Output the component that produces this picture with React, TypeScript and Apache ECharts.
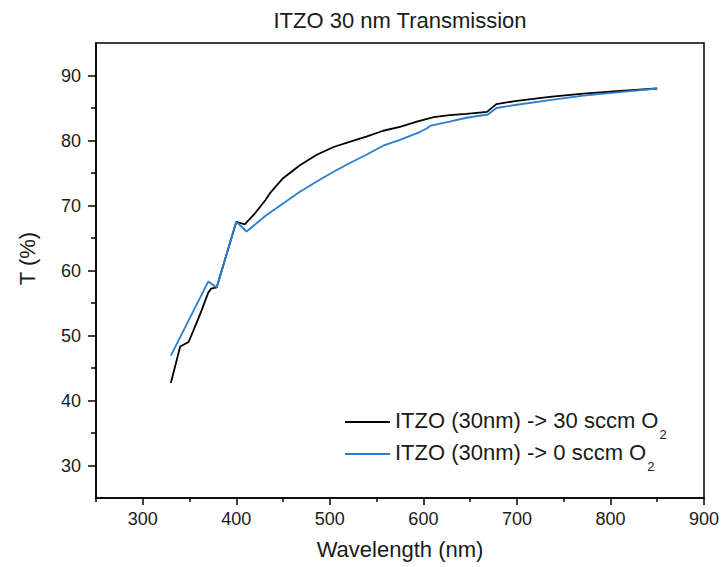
import React, { useEffect, useRef } from "react";
import * as echarts from "echarts";

// Data
const wl30 = [330, 340, 349, 356, 363, 370, 373, 379, 400, 409, 420, 431, 436, 450, 468, 486, 504, 521, 539, 557, 575, 593, 611, 628, 646, 668, 678, 700, 735, 771, 807, 850];
const t30 = [42.7, 48.3, 49.0, 51.4, 53.9, 56.6, 57.2, 57.4, 67.5, 67.1, 68.8, 70.8, 71.9, 74.2, 76.2, 77.8, 79.0, 79.8, 80.6, 81.5, 82.1, 82.9, 83.6, 83.9, 84.1, 84.4, 85.6, 86.1, 86.7, 87.2, 87.6, 88.0];

const wl0 = [330, 370, 379, 400, 411, 432, 450, 468, 486, 504, 521, 539, 557, 575, 596, 603, 608, 628, 646, 669, 678, 700, 735, 771, 807, 850];
const t0 = [46.9, 58.3, 57.4, 67.5, 66.0, 68.5, 70.3, 72.1, 73.7, 75.2, 76.5, 77.8, 79.2, 80.1, 81.3, 81.8, 82.3, 82.9, 83.5, 84.0, 85.0, 85.5, 86.2, 86.9, 87.4, 88.0];

const xMajorTicks = [300, 400, 500, 600, 700, 800, 900];
const xMinorTicks = [250, 350, 450, 550, 650, 750, 850];
const yMajorTicks = [30, 40, 50, 60, 70, 80, 90];
const yMinorTicks = [35, 45, 55, 65, 75, 85];

const seriesNames = ["ITZO (30nm) -> 30 sccm O2", "ITZO (30nm) -> 0 sccm O2"];
const titleText = "ITZO 30 nm Transmission";
const xName = "Wavelength (nm)";
const yName = "T (%)";

const FONT = '"Liberation Sans", Arial, sans-serif';
const TEXT = "#1a1a1a";

export default function App() {
  const ref = useRef<HTMLDivElement>(null);

  useEffect(() => {
    if (!ref.current) return;
    const chart = echarts.init(ref.current, null, { renderer: "svg" });
    const pairs = (xs: number[], ys: number[]) => xs.map((x, i) => [x, ys[i]]);

    const axisLineStyle = { color: "#000", width: 1.5 };

    chart.setOption({
      animation: false,
      backgroundColor: "#fff",
      title: {
        text: titleText,
        left: 400,
        top: 9,
        padding: 0,
        textAlign: "center",
        textStyle: { fontSize: 22, fontWeight: "normal", color: TEXT, fontFamily: FONT },
      },
      grid: {
        left: 96,
        right: 17,
        top: 43,
        bottom: 69,
        show: true,
        borderColor: "#000",
        borderWidth: 1.5,
        containLabel: false,
        outerBoundsMode: "none",
      },
      legend: {
        orient: "vertical",
        left: 345,
        top: 409,
        padding: 0,
        icon: "rect",
        itemWidth: 45,
        itemHeight: 2,
        itemGap: 0,
        selectedMode: false,
        data: seriesNames,
        formatter: (name: string) => `{m|${name.slice(0, -1)}}{s|${name.slice(-1)}}`,
        textStyle: {
          color: TEXT,
          fontFamily: FONT,
          fontSize: 22,
          rich: {
            m: { fontSize: 22, lineHeight: 26, verticalAlign: "top", color: TEXT, fontFamily: FONT },
            s: { fontSize: 13, lineHeight: 13, verticalAlign: "top", padding: [19, 0, 0, 1], color: TEXT, fontFamily: FONT },
          },
        },
      },
      xAxis: [
        {
          type: "value",
          min: 250,
          max: 900,
          position: "bottom",
          name: xName,
          nameLocation: "middle",
          nameGap: 40,
          nameTextStyle: { fontSize: 22, color: TEXT, fontFamily: FONT },
          axisLine: { show: true, lineStyle: axisLineStyle },
          axisTick: { show: true, length: 7, lineStyle: axisLineStyle, customValues: xMajorTicks },
          axisLabel: { fontSize: 18, color: TEXT, fontFamily: FONT, margin: 12, customValues: xMajorTicks },
          splitLine: { show: false },
        },
        {
          type: "value",
          min: 250,
          max: 900,
          position: "bottom",
          offset: 0,
          axisLine: { show: false },
          axisTick: { show: true, length: 4, lineStyle: axisLineStyle, customValues: xMinorTicks },
          axisLabel: { show: false },
          splitLine: { show: false },
        },
      ],
      yAxis: [
        {
          type: "value",
          min: 25,
          max: 95,
          position: "left",
          name: yName,
          nameLocation: "middle",
          nameGap: 58,
          nameTextStyle: { fontSize: 22, color: TEXT, fontFamily: FONT, padding: [0, 0, 0, 24] },
          axisLine: { show: true, lineStyle: axisLineStyle },
          axisTick: { show: true, length: 8, lineStyle: axisLineStyle, customValues: yMajorTicks },
          axisLabel: { fontSize: 18, color: TEXT, fontFamily: FONT, margin: 15, customValues: yMajorTicks },
          splitLine: { show: false },
        },
        {
          type: "value",
          min: 25,
          max: 95,
          position: "left",
          offset: 0,
          axisLine: { show: false },
          axisTick: { show: true, length: 5, lineStyle: axisLineStyle, customValues: yMinorTicks },
          axisLabel: { show: false },
          splitLine: { show: false },
        },
      ],
      series: [
        {
          name: seriesNames[0],
          type: "line",
          xAxisIndex: 0,
          yAxisIndex: 0,
          symbol: "none",
          data: pairs(wl30, t30),
          lineStyle: { color: "#000", width: 1.8 },
          itemStyle: { color: "#000" },
        },
        {
          name: seriesNames[1],
          type: "line",
          xAxisIndex: 0,
          yAxisIndex: 0,
          symbol: "none",
          data: pairs(wl0, t0),
          lineStyle: { color: "#2a7dd1", width: 1.8 },
          itemStyle: { color: "#2a7dd1" },
        },
      ],
    });

    return () => chart.dispose();
  }, []);

  return (
    <div
      ref={ref}
      style={{ position: "fixed", left: 0, top: 0, width: 721, height: 567, background: "#fff" }}
    />
  );
}
